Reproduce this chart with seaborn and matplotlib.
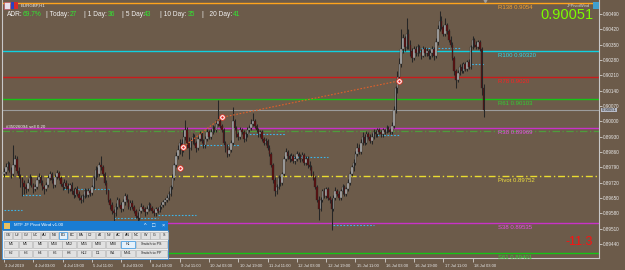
### IMPORTS
import numpy as np
import pandas as pd
import matplotlib
matplotlib.use("Agg")
import matplotlib.pyplot as plt
import matplotlib.transforms as mtransforms
from matplotlib.patches import Rectangle
import seaborn as sns

### CANDLE DATA  (EURGBP H1, prices in points = 1e-5)
first_open = 89760
close_pts = [
    89770, 89790, 89805, 89780, 89760, 89800, 89830, 89775, 89750, 89735, 89720,
    89700, 89690, 89720, 89740, 89710, 89690, 89700, 89730, 89745, 89720, 89700, 89690,
    89710, 89740, 89760, 89730, 89710, 89745, 89765, 89740, 89715, 89700, 89720, 89705,
    89690, 89710, 89680, 89665, 89690, 89670, 89650, 89640, 89660, 89680, 89665, 89680,
    89675, 89700, 89740, 89780, 89760, 89800, 89790, 89760, 89720, 89680, 89640, 89620,
    89590, 89580, 89610, 89640, 89620, 89600, 89630, 89660, 89640, 89610, 89625,
    89610, 89590, 89570, 89560, 89590, 89610, 89600, 89585, 89600, 89620, 89605,
    89590, 89580, 89600, 89590, 89610, 89620, 89630, 89640, 89650, 89670,
    89700, 89740, 89800, 89840, 89870, 89900, 89870, 89930, 89960, 89900, 89880,
    89910, 89930, 89900, 89880, 89920, 89940, 89910, 89890, 89920, 89950, 89930,
    89950, 89970, 89960, 89990, 90000, 89980, 89960, 89900, 89880, 89850, 89870,
    89900, 90000, 89970, 89940, 89930, 89960, 89950, 89920, 89940, 89960, 89970,
    89990, 90000, 89980, 89960, 89940, 89950, 89920, 89900, 89910, 89880, 89850,
    89800, 89730, 89680, 89700, 89740, 89720, 89760, 89830, 89860, 89840, 89830,
    89840, 89820, 89830, 89850, 89840, 89830, 89845, 89810, 89830, 89800,
    89790, 89760, 89740, 89700, 89640, 89600, 89640, 89680, 89660, 89690, 89650,
    89640, 89600, 89650, 89680, 89670, 89650, 89680, 89700, 89670, 89690, 89720,
    89760, 89790, 89810, 89850, 89880, 89860, 89900, 89930, 89900, 89940, 89930,
    89910, 89930, 89950, 89940, 89960, 89950, 89940, 89960, 89950, 89970, 89960,
    89950, 89980, 90050, 90150, 90200, 90260, 90330, 90380, 90340, 90400, 90350,
    90320, 90290, 90330, 90310, 90340, 90320, 90300, 90330, 90310, 90320, 90300,
    90310, 90330, 90300, 90360, 90420, 90460, 90430, 90400, 90440, 90410, 90370,
    90350, 90290, 90230, 90190, 90220, 90250, 90230, 90260, 90240, 90270, 90250,
    90340, 90370, 90350, 90340, 90360, 90330, 90150, 90051,
]
high_pts = [
    89785, 89810, 89820, 89815, 89790, 89890, 89845, 89840, 89790, 89760, 89745,
    89730, 89715, 89735, 89760, 89750, 89720, 89715, 89745, 89765, 89755, 89730, 89710,
    89725, 89755, 89775, 89770, 89740, 89760, 89780, 89775, 89750, 89725, 89735, 89730,
    89720, 89720, 89725, 89695, 89700, 89705, 89680, 89665, 89670, 89695, 89690, 89695,
    89690, 89710, 89750, 89795, 89790, 89815, 89840, 89800, 89770, 89730, 89690, 89650,
    89630, 89600, 89625, 89655, 89650, 89630, 89645, 89675, 89670, 89645, 89640,
    89640, 89620, 89600, 89585, 89600, 89625, 89620, 89610, 89615, 89630, 89625,
    89615, 89600, 89610, 89610, 89620, 89630, 89640, 89650, 89665, 89680,
    89710, 89760, 89810, 89860, 89890, 89920, 89920, 89960, 90005, 89975, 89930,
    89925, 89945, 89940, 89910, 89935, 89955, 89950, 89920, 89935, 89965, 89960,
    89965, 89985, 89980, 90005, 90095, 90010, 89990, 89970, 89910, 89895, 89885,
    89915, 90065, 90010, 89980, 89950, 89975, 89970, 89960, 89950, 89975, 89985,
    90010, 90040, 90010, 89990, 89970, 89960, 89960, 89930, 89925, 89920, 89890,
    89860, 89810, 89745, 89715, 89755, 89750, 89770, 89840, 89880, 89870, 89850,
    89855, 89850, 89840, 89865, 89860, 89850, 89860, 89855, 89840, 89840,
    89820, 89800, 89775, 89750, 89710, 89660, 89655, 89690, 89695, 89700, 89700,
    89660, 89650, 89665, 89700, 89690, 89680, 89690, 89715, 89710, 89700, 89735,
    89775, 89800, 89830, 89865, 89900, 89895, 89920, 89950, 89940, 89955, 89950,
    89940, 89945, 89965, 89960, 89970, 89970, 89960, 89970, 89965, 89985, 89980,
    89970, 89995, 90070, 90160, 90230, 90290, 90420, 90400, 90390, 90470, 90420,
    90370, 90335, 90345, 90345, 90355, 90350, 90330, 90345, 90340, 90335, 90330,
    90325, 90345, 90340, 90380, 90440, 90505, 90480, 90440, 90470, 90450, 90420,
    90390, 90360, 90300, 90240, 90235, 90260, 90265, 90270, 90270, 90280, 90285,
    90350, 90390, 90380, 90365, 90370, 90370, 90340, 90170,
]
low_pts = [
    89745, 89760, 89780, 89770, 89740, 89750, 89790, 89765, 89740, 89700, 89660,
    89670, 89675, 89680, 89710, 89700, 89675, 89680, 89690, 89720, 89710, 89685, 89670,
    89680, 89700, 89730, 89720, 89695, 89700, 89735, 89730, 89705, 89685, 89690, 89690,
    89675, 89680, 89670, 89650, 89655, 89660, 89640, 89625, 89630, 89650, 89655, 89655,
    89660, 89665, 89690, 89730, 89745, 89750, 89780, 89750, 89710, 89670, 89630, 89600,
    89575, 89540, 89570, 89600, 89610, 89585, 89590, 89620, 89630, 89600, 89595,
    89600, 89580, 89560, 89540, 89550, 89580, 89590, 89570, 89575, 89590, 89595,
    89580, 89570, 89570, 89580, 89585, 89600, 89610, 89620, 89630, 89640,
    89660, 89690, 89730, 89790, 89830, 89850, 89840, 89860, 89915, 89880, 89830,
    89870, 89895, 89890, 89860, 89870, 89910, 89900, 89880, 89880, 89910, 89920,
    89920, 89940, 89950, 89950, 89980, 89970, 89950, 89890, 89860, 89835, 89840,
    89860, 89890, 89960, 89930, 89915, 89920, 89940, 89905, 89910, 89930, 89950,
    89960, 89980, 89970, 89950, 89930, 89930, 89910, 89890, 89890, 89870, 89840,
    89790, 89720, 89660, 89670, 89690, 89705, 89710, 89750, 89820, 89830, 89815,
    89820, 89810, 89805, 89820, 89830, 89815, 89820, 89800, 89800, 89785,
    89780, 89750, 89730, 89690, 89630, 89550, 89590, 89630, 89650, 89650, 89640,
    89625, 89505, 89590, 89640, 89660, 89640, 89640, 89670, 89660, 89660, 89680,
    89710, 89750, 89775, 89800, 89840, 89850, 89850, 89890, 89890, 89895, 89920,
    89900, 89895, 89920, 89930, 89930, 89940, 89930, 89930, 89940, 89945, 89950,
    89940, 89940, 89970, 90040, 90130, 90180, 90250, 90310, 90320, 90330, 90330,
    90300, 90270, 90280, 90300, 90300, 90310, 90285, 90295, 90300, 90300, 90285,
    90285, 90295, 90280, 90290, 90350, 90410, 90420, 90390, 90390, 90400, 90360,
    90340, 90280, 90210, 90150, 90180, 90210, 90220, 90220, 90230, 90230, 90240,
    90240, 90330, 90340, 90330, 90330, 90320, 90120, 90020,
]

### TIME AXIS (one label every 16 H1 bars)
time_labels = ["3 Jul 2019", "4 Jul 03:00", "4 Jul 19:00", "5 Jul 11:00", "8 Jul 03:00",
               "8 Jul 19:00", "9 Jul 11:00", "10 Jul 03:00", "10 Jul 19:00", "11 Jul 11:00",
               "12 Jul 03:00", "12 Jul 19:00", "15 Jul 11:00", "16 Jul 03:00", "16 Jul 19:00",
               "17 Jul 11:00", "18 Jul 03:00"]
bars_per_label = 16

### PRICE AXIS
price_ticks = [0.90490, 0.90420, 0.90350, 0.90280, 0.90210, 0.90140, 0.90070, 0.90000,
               0.89930, 0.89860, 0.89790, 0.89720, 0.89650, 0.89580, 0.89510, 0.89440]
price_top, price_bottom = 0.905537, 0.893761

### PIVOT LEVELS
level_text = ["R138 0.9054", "R100 0.90320", "R78 0.9020", "R61 0.90103",
              "R38 0.89969", "Pivot 0.89752", "S38 0.89535", "S61 0.89401"]
level_price = [0.90540, 0.90320, 0.90202, 0.90103, 0.89969, 0.89752, 0.89535, 0.89401]
level_color = ["#ffa41c", "#10d0e0", "#c81c1c", "#16c416",
               "#c832c8", "#eadc30", "#c832c8", "#16c416"]
level_label_color = ["#f0a030", "#30d8e8", "#ff2020", "#30d030",
                     "#e650e6", "#f0e040", "#e650e6", "#30d030"]
level_dash = ["-", "-", "-", "-", "-", (0, (5, 2, 1, 2)), "-", "-"]

### DAILY RANGE MARKS (bar from, bar to, price)
range_from = [0, 10, 33, 60, 84, 107, 132, 156, 180, 204, 226, 252]
range_to = [10, 21, 58, 84, 105, 129, 154, 177, 202, 216, 249, 263]
range_price = [0.89595, 0.89663, 0.89691, 0.89559, 0.89572, 0.89892,
               0.89942, 0.89837, 0.89527, 0.89938, 0.90335, 0.90262]

### TRADE ARROWS
trade_bar = [96, 98, 119, 216]
trade_price = [0.89787, 0.89883, 0.90018, 0.90185]

order_price = 0.89956
order_label = "#35026094 sell 0.20"
bid = 0.90051
pnl_text = "-11.3"

### HEADER / PANEL TEXTS
adr_names = ["ADR:", "| Today:", "| 1 Day:", "| 5 Day:", "| 10 Day:", "|   20 Day:"]
adr_values = ["69.7%", "27", "36", "43", "35", "41"]
pair_buttons = ["GU", "UJ", "GJ", "UC", "AU", "NU", "EG", "EC", "EA",
                "CJ", "AJ", "NJ", "AC", "AN", "NC", "W", "G", "S"]
tf_row1 = ["M1", "M5", "M6", "M10", "M12", "M15", "M20", "M30", "H1"]
tf_row2 = ["H2", "H3", "H4", "H6", "H8", "H12", "D1", "W1", "MN1"]

### STYLE
BG = "#6c5b4a"
WICK = "#262626"
BULL = "#b0b0b0"
BEAR = "#5e1010"
BORDER = "#c8c8c8"

sns.set_theme(style="dark", rc={"axes.facecolor": BG, "figure.facecolor": BG})
plt.rcParams["font.family"] = ["Liberation Sans", "DejaVu Sans"]

W, H = 625, 270
fig = plt.figure(figsize=(W / 100, H / 100), dpi=100)
ax = fig.add_axes([2 / W, 12 / H, 597 / W, 258 / H])


def px_box(x0, y0, x1, y1, **kw):
    fig.add_artist(Rectangle((x0 / W, 1 - y1 / H), (x1 - x0) / W, (y1 - y0) / H,
                             transform=fig.transFigure, **kw))


def px_text(x, y, s, **kw):
    fig.text(x / W, 1 - y / H, s, **kw)


### CANDLES
df = pd.DataFrame({"close": np.array(close_pts) / 1e5,
                   "high": np.array(high_pts) / 1e5,
                   "low": np.array(low_pts) / 1e5})
df["open"] = np.r_[first_open, close_pts[:-1]] / 1e5
df["bar"] = np.arange(len(df))
df["high"] = np.maximum(df["high"], df[["open", "close"]].max(axis=1))
df["low"] = np.minimum(df["low"], df[["open", "close"]].min(axis=1))
up = df["close"] >= df["open"]

ax.vlines(df["bar"], df["low"], df["high"], color=WICK, lw=0.75, zorder=3)
body = np.maximum((df["close"] - df["open"]).abs(), 0.00002)
ax.bar(df["bar"], body, bottom=df[["open", "close"]].min(axis=1), width=0.85,
       color=np.where(up, BULL, BEAR), edgecolor=WICK, linewidth=0.25, zorder=4)

### LEVEL LINES
label_at = 270
below = mtransforms.offset_copy(ax.transData, fig=fig, y=-2, units="dots")
for txt, p, c, lc, ls in zip(level_text, level_price, level_color, level_label_color, level_dash):
    ax.axhline(p, color=c, lw=1.0, linestyle=ls, zorder=2)
    ax.text(label_at, p, txt, color=lc, fontsize=4.3, va="top", transform=below, zorder=6)

ax.axhline(bid, color="#9c9c9c", lw=0.8, zorder=2)
ax.axhline(order_price, color="#4e9c3c", lw=0.9, linestyle=(0, (6, 2, 1, 2)), zorder=2)
ax.text(1, order_price, order_label, color="#f0f0f0", fontsize=3.2, va="bottom",
        transform=mtransforms.offset_copy(ax.transData, fig=fig, y=1.5, units="dots"), zorder=6)

ax.hlines(range_price, range_from, range_to, colors="#3cb6ea", lw=0.8,
          linestyles=(0, (1.5, 1.5)), zorder=2)

### TRADE ARROWS
ax.plot(trade_bar[1:], trade_price[1:], color="#e0602a", lw=0.8, linestyle=(0, (1.5, 1.5)), zorder=5)
sns.scatterplot(x=trade_bar, y=trade_price, s=16, color="white", edgecolor="#e03020",
                linewidth=0.6, ax=ax, zorder=7, legend=False)
sns.scatterplot(x=trade_bar, y=trade_price, s=3, color="#e02020", linewidth=0,
                ax=ax, zorder=8, legend=False)
ax.plot([len(df)], [price_top], marker="v", color="#a0a0a0", ms=3, clip_on=False, zorder=8)

### AXES
ax.set_xlim(-1.09, 325.1)
ax.set_ylim(price_bottom, price_top)
for side in ["left", "right", "bottom"]:
    ax.spines[side].set_visible(True)
    ax.spines[side].set_color(BORDER)
    ax.spines[side].set_linewidth(0.8)
ax.spines["top"].set_visible(False)

ax.yaxis.tick_right()
ax.set_yticks(price_ticks)
ax.set_yticklabels([f"{p:.5f}" for p in price_ticks])
ax.set_xticks(np.arange(len(time_labels)) * bars_per_label)
ax.set_xticklabels(time_labels, ha="left")
ax.tick_params(axis="y", colors="#e8e8e8", labelsize=3.3, length=2, width=0.5, pad=1,
               direction="out", right=True, left=False)
ax.tick_params(axis="x", colors="#e8e8e8", labelsize=3.0, length=3, width=0.5, pad=1,
               direction="out", bottom=True)
shift = mtransforms.ScaledTranslation(1.5 / 100, 0, fig.dpi_scale_trans)
for lab in ax.get_xticklabels():
    lab.set_transform(lab.get_transform() + shift)
ax.set_xlabel("")
ax.set_ylabel("")
ax.grid(False)

### HEADER
px_box(4, 2.5, 10, 8.5, facecolor="#e6e0ec", edgecolor="#c04050", lw=0.4, zorder=10)
px_box(11, 2.5, 14.5, 8.5, facecolor="#2844c0", edgecolor="none", zorder=10)
px_box(14.5, 2.5, 18, 8.5, facecolor="#d42a2a", edgecolor="none", zorder=10)
px_text(21, 5.5, "EURGBP,H1", color="#f0f0f0", fontsize=3.2, va="center")
for name, val, xn, xv in zip(adr_names, adr_values,
                             [7, 46, 84, 122, 160, 202], [23, 70, 108, 144, 188, 233]):
    px_text(xn, 14, name, color="#f0f0f0", fontsize=4.8, va="center")
    px_text(xv, 14, val, color="#32e632", fontsize=4.8, va="center")

px_text(540, 15, f"{bid:.5f}", color="#7cfc00", fontsize=10.5, va="center")
px_text(567, 6, "JFPivotWind", color="#d8d8d8", fontsize=3.0, va="center")
px_box(593, 2, 599, 9, facecolor="#40a0d0", edgecolor="none", zorder=10)
px_text(565, 242, pnl_text, color="#ff1010", fontsize=9, va="center")
px_text(601.5, 110, f"{bid:.5f}", color="#202020", fontsize=3.0, va="center",
        bbox=dict(boxstyle="square,pad=0.1", facecolor="#b8bcc8", edgecolor="none"))

### PANEL
TITLE = "#1a7cd2"
px_box(2, 221, 168, 230, facecolor=TITLE, edgecolor="none", zorder=10)
px_box(2, 230, 168, 258.5, facecolor="#f0f0f0", edgecolor=TITLE, lw=0.5, zorder=10)
px_box(4, 222.5, 10, 228.5, facecolor="#e8c060", edgecolor="none", zorder=11)
px_text(14, 225.5, "MTF JF Pivot Wind v1.00", color="white", fontsize=3.2, va="center", zorder=12)
for sym, xs in zip(["^", "\u25a1", "\u00d7"], [145, 154, 163]):
    px_text(xs, 225.5, sym, color="white", fontsize=4, ha="center", va="center", zorder=12)


def button(x0, y0, x1, y1, label, selected=False):
    px_box(x0, y0, x1, y1, facecolor="#e5f1fb" if selected else "#e1e1e1",
           edgecolor="#0078d7" if selected else "#adadad", lw=0.4, zorder=11)
    px_text((x0 + x1) / 2, (y0 + y1) / 2, label, color="#1a1a1a", fontsize=2.6,
            ha="center", va="center", zorder=12)


for k, name in enumerate(pair_buttons):
    x0 = 4 + k * 9.15
    button(x0, 231.5, x0 + 8.3, 239, name, selected=(name == "EG"))
for row, (names, y0) in enumerate([(tf_row1, 240.5), (tf_row2, 249.5)]):
    for k, name in enumerate(names):
        x0 = 4 + k * 14.6
        button(x0, y0, x0 + 13.8, y0 + 7.5, name, selected=(name == "H1"))
    button(136, y0, 167, y0 + 7.5, ["Switch to PS", "Switch to PP"][row])

fig.savefig("out.png", dpi=100, facecolor=BG)
